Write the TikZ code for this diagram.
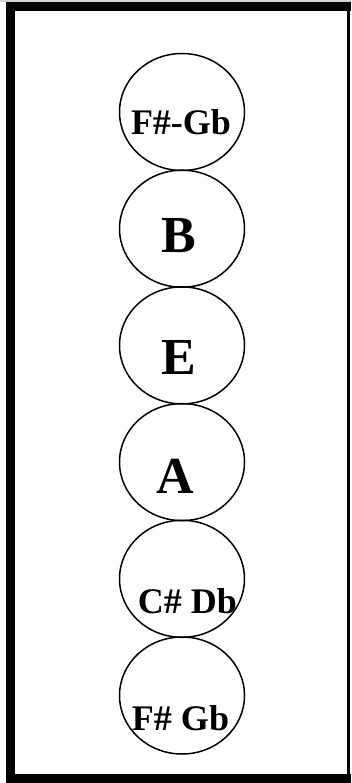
\documentclass[tikz,border=0pt]{standalone}
\usepackage{fontspec}
\setmainfont{Liberation Serif}
\usetikzlibrary{shapes.geometric}
\begin{document}
\begin{tikzpicture}[x=1pt,y=-1pt,
  ring/.style={draw=black,line width=1.5pt,ellipse,minimum width=125pt,minimum height=117pt,inner sep=0pt},
  small/.style={anchor=base,inner sep=0pt,font=\fontsize{36}{36}\selectfont\bfseries},
  big/.style={anchor=base,inner sep=0pt,font=\fontsize{52}{52}\selectfont\bfseries}]
\useasboundingbox (0,0) rectangle (351,783);
\fill[white] (0,0) rectangle (351,783);
\fill[gray!35] (0,0) rectangle (351,2);
% frame
\fill[black] (6,2) rectangle (15,783);
\fill[black] (6,2) rectangle (351,11);
\fill[black] (347,2) rectangle (350,783);
\fill[black] (6,774) rectangle (351,783);
% circles
\node[ring] (c1) at (182,112) {};
\node[ring] (c2) at (182,228.7) {};
\node[ring] (c3) at (182,345.4) {};
\node[ring] (c4) at (182,462.1) {};
\node[ring] (c5) at (182,578.8) {};
\node[ring] (c6) at (182,695.5) {};
% labels
\node[small] (t1) at (181,135) {F\#-Gb};
\node[big] (t2) at (178.5,253) {B};
\node[big] (t3) at (179,374) {E};
\node[big] (t4) at (175,493) {A};
\node[small] (t5) at (187.5,613) {C\# Db};
\node[small] (t6) at (180.5,730) {F\# Gb};
\end{tikzpicture}
\end{document}
